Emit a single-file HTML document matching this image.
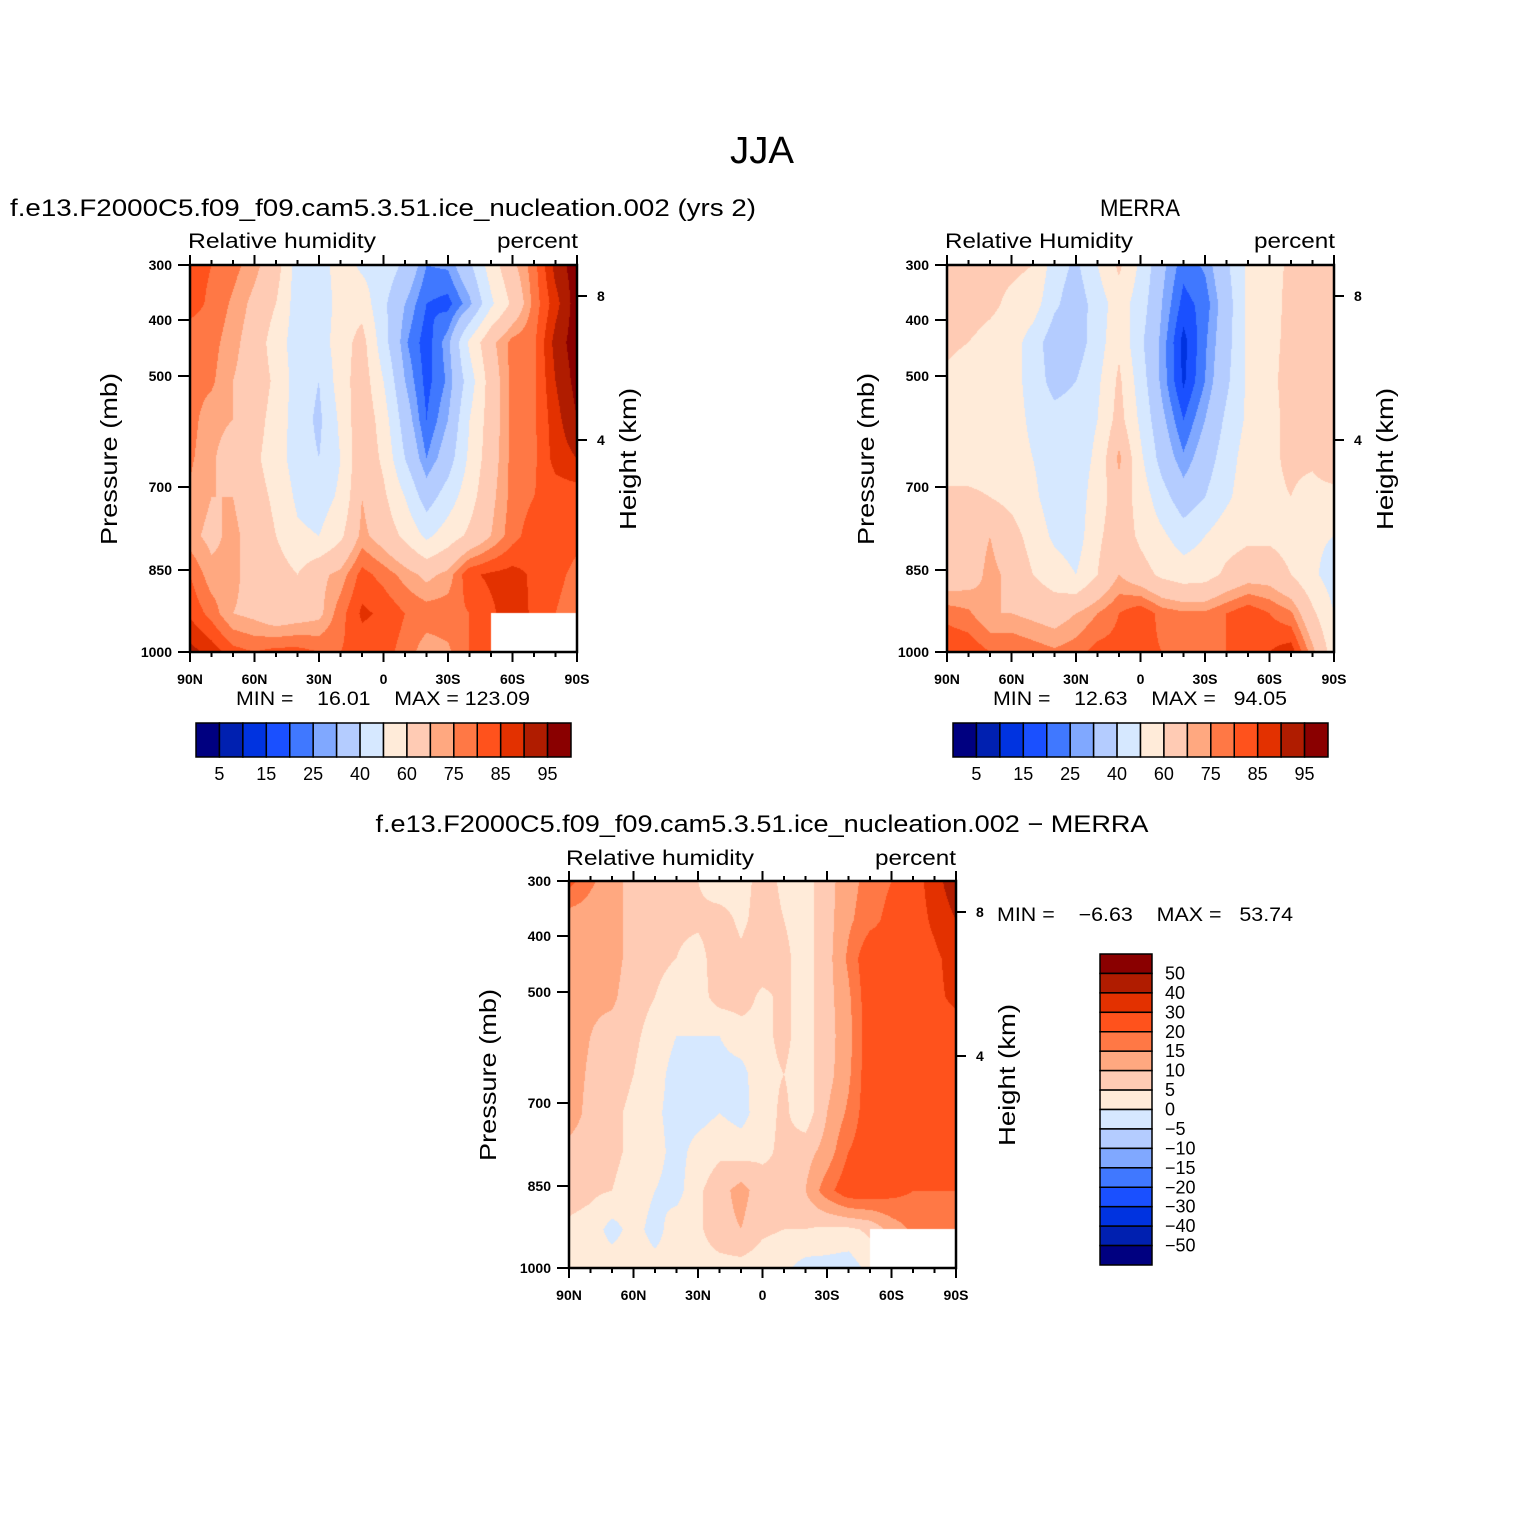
<!DOCTYPE html>
<html><head><meta charset="utf-8">
<style>
html,body{margin:0;padding:0;background:#fff;}
#root{position:relative;width:1524px;height:1524px;overflow:hidden;font-family:"Liberation Sans",sans-serif;}
canvas{position:absolute;}
svg{position:absolute;left:0;top:0;}
text{font-family:"Liberation Sans",sans-serif;fill:#000;white-space:pre;}
</style></head>
<body>
<div id="root">
<canvas id="c1" width="387" height="387" style="left:190px;top:265px"></canvas>
<canvas id="c2" width="387" height="387" style="left:947px;top:265px"></canvas>
<canvas id="c3" width="387" height="387" style="left:569px;top:881px"></canvas>
<svg id="svg" width="1524" height="1524"></svg>
</div>
<script>
// ---- data ----
const latLabels = ["90N","60N","30N","0","30S","60S","90S"];
const pressTicks = [300,400,500,700,850,1000];
const heightTicks = [8,4];
const rhLevels = [5,10,15,20,25,30,40,50,60,70,75,80,85,90,95];
const rhLabels = ["5","15","25","40","60","75","85","95"];
const diffLevels = [-50,-40,-30,-20,-15,-10,-5,0,5,10,15,20,30,40,50];
const diffLabels = ["50","40","30","20","15","10","5","0","\u22125","\u221210","\u221215","\u221220","\u221230","\u221240","\u221250"];
const palette = ["#000080","#0020b0","#0033e0","#1a50ff","#4078ff","#80a8ff","#b4ccff","#d6e8ff","#ffebd9","#ffcbb4","#ffa880","#ff7845","#ff521c","#e33100","#b01c00","#8a0000"];
const N=null;
const model = [
[82,80,77,72,65,45,45,55,48,46,38,25,26,38,55,68,78,92,98],
[82,79,74,68,60,45,42,55,56,42,30,20,18,28,48,62,77,88,98],
[77,77,72,66,55,45,45,55,64,44,26,17,28,52,68,77,79,92,98],
[77,76,70,66,58,45,40,55,66,50,30,18,26,45,65,77,79,90,97],
[77,72,70,64,56,45,38,52,68,55,35,20,30,50,65,77,79,88,95],
[76,71,66,62,55,45,40,50,68,58,40,25,35,52,66,77,79,87,90],
[74,70,70,64,58,48,45,52,70,62,50,35,45,56,68,77,80,82,82],
[72,68,72,66,60,52,50,58,72,66,58,48,55,62,70,78,83,84,82],
[80,72,72,66,65,60,68,72,82,78,73,68,72,84,86,87,84,82,78],
[84,78,70,68,64,66,68,78,86,84,80,78,78,80,84,88,84,80,76],
[92,88,82,80,82,82,80,80,82,82,78,72,74,80,84,N,N,N,N]
];
const merra = [
[60,62,62,62,60,45,38,50,62,48,32,22,26,38,52,56,62,64,66],
[62,64,62,58,55,42,34,45,55,45,30,18,22,35,52,56,63,64,68],
[62,60,57,55,45,34,35,45,58,42,28,13,24,36,52,58,62,64,65],
[58,55,55,54,46,36,40,48,62,45,28,14,25,38,52,58,63,64,66],
[55,55,55,54,48,44,45,50,64,48,32,20,30,42,52,58,62,62,62],
[55,55,55,54,50,45,45,52,72,52,36,26,35,45,55,58,62,62,70],
[62,62,60,57,52,45,45,55,66,56,44,34,40,48,56,58,60,56,55],
[62,66,70,64,56,48,45,58,66,58,52,45,50,56,58,58,56,52,50],
[64,66,72,68,60,55,50,60,70,64,58,55,56,62,66,66,60,52,45],
[78,76,70,70,68,66,70,75,80,84,78,76,76,80,84,80,76,62,50],
[85,84,80,80,78,76,78,82,82,82,80,76,76,80,82,85,88,72,55]
];
const diff = [
[22,16,12,8,7,6,5,2,3,7,4,3,8,13,17,20,25,35,48],
[12,12,12,8,7,6,6,7,4,7,5,3,8,14,18,22,25,32,40],
[13,12,12,8,6,5,3,8,6,8,6,3,8,16,25,23,24,28,34],
[12,11,11,7,5,3,3,7,7,4,6,3,8,14,24,22,24,28,32],
[13,10,8,6,3,0,0,0,3,4,6,3,8,13,24,24,22,24,26],
[13,9,7,5,2,-2,-2,-2,-2,4,5,3,8,14,24,24,22,22,22],
[13,8,6,4,1,-2,-2,0,-2,3,6,2,10,16,24,24,22,22,22],
[8,7,6,4,2,-2,2,4,3,4,6,8,12,20,24,24,21,21,21],
[7,6,5,3,0,-2,4,8,12,7,6,10,18,24,24,22,20,20,20],
[4,3,-2,2,-2,3,4,8,10,6,5,5,4,4,6,12,16,18,20],
[3,2,3,3,2,2,3,3,3,2,1,-2,-2,-3,2,N,N,N,N]
];
// ---- rendering ----
const PW=387, PH=387;
function pressY(p){
  const ps=[300,400,500,700,850,1000], ys=[0,55,111,222,305,387];
  for(let i=0;i<ps.length-1;i++){ if(p<=ps[i+1]){return ys[i]+(p-ps[i])/(ps[i+1]-ps[i])*(ys[i+1]-ys[i]);} }
  return 387;
}
function heightY(h){ return 31+(8-h)*36; }
function latX(i){ return i*PW/6; }
function levelIndex(v,levels){ let k=0; for(const l of levels){ if(v>=l) k++; } return k; }
function hexToRgb(h){ return [parseInt(h.substr(1,2),16),parseInt(h.substr(3,2),16),parseInt(h.substr(5,2),16)]; }
const rgbPal = palette.map(hexToRgb);
function drawField(id,data,levels){
  const cv=document.getElementById(id), ctx=cv.getContext('2d');
  const img=ctx.createImageData(PW,PH);
  const rows=data.length, cols=data[0].length;
  for(let y=0;y<PH;y++){
    const fy=(y+0.5)/PH*(rows-1); let r0=Math.floor(fy); if(r0>=rows-1) r0=rows-2; const ty=fy-r0;
    for(let x=0;x<PW;x++){
      const fx=(x+0.5)/PW*(cols-1); let c0=Math.floor(fx); if(c0>=cols-1) c0=cols-2; const tx=fx-c0;
      const a=data[r0][c0],b=data[r0][c0+1],c=data[r0+1][c0],d=data[r0+1][c0+1];
      const o=(y*PW+x)*4; let col;
      if(a===null||b===null||c===null||d===null){ col=[255,255,255]; }
      else { const v=(a*(1-tx)+b*tx)*(1-ty)+(c*(1-tx)+d*tx)*ty; col=rgbPal[levelIndex(v,levels)]; }
      img.data[o]=col[0];img.data[o+1]=col[1];img.data[o+2]=col[2];img.data[o+3]=255;
    }
  }
  ctx.putImageData(img,0,0);
}
drawField('c1',model,rhLevels);
drawField('c2',merra,rhLevels);
drawField('c3',diff,diffLevels);

const svg=document.getElementById('svg');
const NS="http://www.w3.org/2000/svg";
function mk(tag,attrs,parent){ const e=document.createElementNS(NS,tag); for(const k in attrs) e.setAttribute(k,attrs[k]); (parent||svg).appendChild(e); return e; }
function txt(s,x,y,size,anchor,parent,len){ const a={x:x,y:y,'font-size':size,'text-anchor':anchor||'start'}; if(len){a.textLength=len;a.lengthAdjust='spacingAndGlyphs';} const t=mk('text',a,parent); t.textContent=s; return t; }

function axes(ox,oy,name){
  const g=mk('g',{});
  
  
  mk('rect',{x:ox,y:oy,width:PW,height:PH,fill:'none',stroke:'#000','stroke-width':2.5},g);
  for(let d=0;d<=18;d++){
    const x=ox+d*PW/18, major=(d%3===0), L=major?10:5;
    mk('line',{x1:x,y1:oy,x2:x,y2:oy-L,stroke:'#000','stroke-width':2},g);
    mk('line',{x1:x,y1:oy+PH,x2:x,y2:oy+PH+L,stroke:'#000','stroke-width':2},g);
  }
  latLabels.forEach((l,i)=>{ const t=txt(l,ox+latX(i),oy+PH+32,14,'middle',g); t.setAttribute('font-weight','bold');   });
  pressTicks.forEach(p=>{ const y=oy+pressY(p);
    mk('line',{x1:ox,y1:y,x2:ox-12,y2:y,stroke:'#000','stroke-width':2},g);
    const t=txt(String(p),ox-18,y+5,14,'end',g); t.setAttribute('font-weight','bold');   });
  heightTicks.forEach(h=>{ const y=oy+heightY(h);
    mk('line',{x1:ox+PW,y1:y,x2:ox+PW+10,y2:y,stroke:'#000','stroke-width':2},g);
    const t=txt(String(h),ox+PW+20,y+5,14,'start',g); t.setAttribute('font-weight','bold');   });
  let t=mk('text',{x:0,y:0,'font-size':23,'text-anchor':'middle',textLength:172,lengthAdjust:'spacingAndGlyphs',transform:`translate(${ox-73},${oy+194}) rotate(-90)`},g); t.textContent='Pressure (mb)';
   
  t=mk('text',{x:0,y:0,'font-size':23,'text-anchor':'middle',textLength:142,lengthAdjust:'spacingAndGlyphs',transform:`translate(${ox+PW+59},${oy+194}) rotate(-90)`},g); t.textContent='Height (km)';
   
}
axes(190,265,'model'); axes(947,265,'merra'); axes(569,881,'diff');

let t;
t=txt('JJA',762,163,38,'middle',null,64);  
t=txt('f.e13.F2000C5.f09_f09.cam5.3.51.ice_nucleation.002 (yrs 2)',383,216,24,'middle',null,746);  
t=txt('MERRA',1140,216,24,'middle',null,80);  
t=txt('f.e13.F2000C5.f09_f09.cam5.3.51.ice_nucleation.002 \u2212 MERRA',762,832,24,'middle',null,773);  
[[188,578,248,'Relative humidity'],[945,1335,248,'Relative Humidity'],[566,956,865,'Relative humidity']].forEach(a=>{
  t=txt(a[3],a[0],a[2],21,'start',null,188);  
  t=txt('percent',a[1],a[2],21,'end',null,81);  
});
t=txt('MIN =    16.01    MAX = 123.09',236,705,19,'start',null,294);  
t=txt('MIN =    12.63    MAX =   94.05',993,705,19,'start',null,294);  
t=txt('MIN =    \u22126.63    MAX =   53.74',997,921,19,'start',null,296);  

function hbar(x0,name){
  const g=mk('g',{});
  
  
  const w=375/16;
  palette.forEach((c,i)=>{ mk('rect',{x:x0+i*w,y:723,width:w,height:34,fill:c,stroke:'#000','stroke-width':1.5},g); });
  rhLabels.forEach((l,k)=>{ const tt=txt(l,x0+(2*k+1)*w,780,18,'middle',g);   });
}
hbar(196,'model'); hbar(953,'merra');
(function(){
  const g=mk('g',{});
  
  
  const h=311/16;
  palette.slice().reverse().forEach((c,i)=>{ mk('rect',{x:1100,y:954+i*h,width:52,height:h,fill:c,stroke:'#000','stroke-width':1.5},g); });
  diffLabels.forEach((l,k)=>{ const tt=txt(l,1165,954+(k+1)*h+6,18,'start',g);   });
})();
</script>
</body></html>
